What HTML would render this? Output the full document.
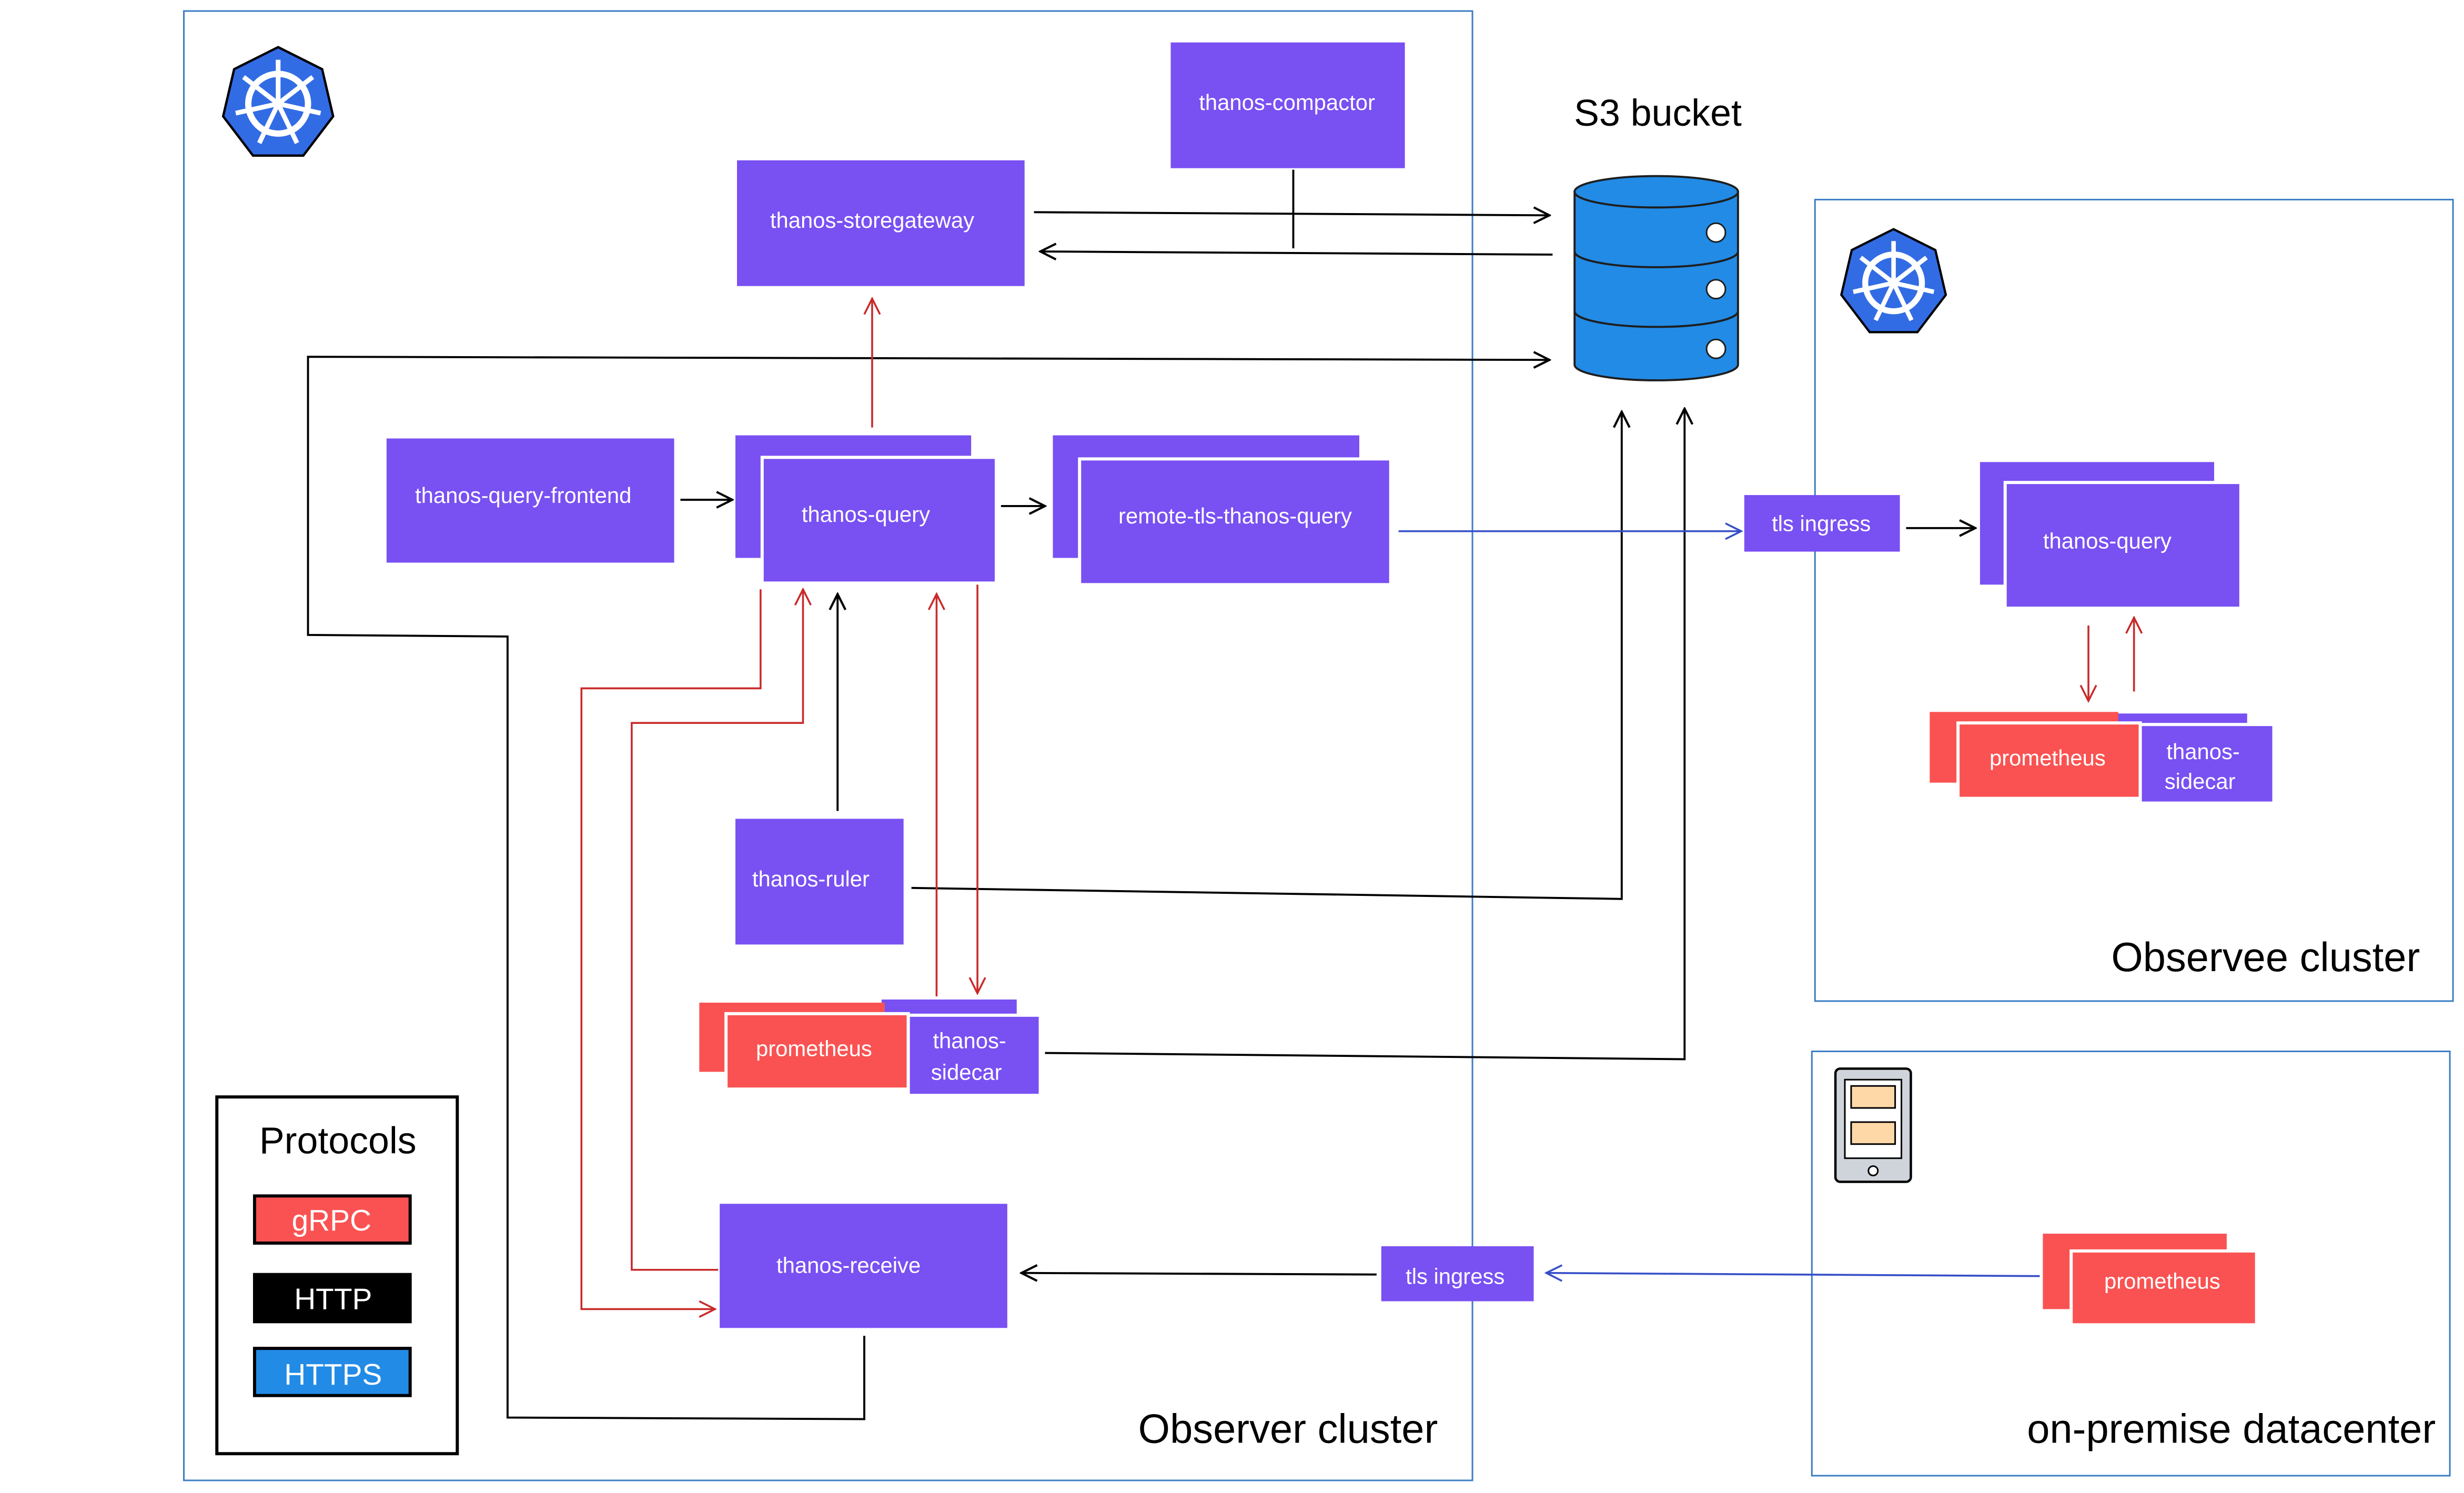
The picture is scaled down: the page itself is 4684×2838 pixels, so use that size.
<!DOCTYPE html>
<html><head><meta charset="utf-8"><style>html,body{margin:0;padding:0;background:#fff}svg{display:block}text{font-family:"Liberation Sans",sans-serif}</style></head><body>
<svg width="4684" height="2838" viewBox="0 0 1568 950" xmlns="http://www.w3.org/2000/svg">
<defs>
<marker id="ak" markerWidth="12" markerHeight="12" refX="11" refY="6" orient="auto" markerUnits="userSpaceOnUse"><path d="M1,1 L11,6 L1,11" fill="none" stroke="#000" stroke-width="1.4"/></marker>
<marker id="ar" markerWidth="12" markerHeight="12" refX="11" refY="6" orient="auto" markerUnits="userSpaceOnUse"><path d="M1,1 L11,6 L1,11" fill="none" stroke="#c92a2a" stroke-width="1.2"/></marker>
<marker id="ab" markerWidth="12" markerHeight="12" refX="11" refY="6" orient="auto" markerUnits="userSpaceOnUse"><path d="M1,1 L11,6 L1,11" fill="none" stroke="#364fc7" stroke-width="1.2"/></marker>
<g id="k8s"><polygon points="0,-36 28,-22 35,8 16,33 -16,33 -35,8 -28,-22" fill="#326ce5" stroke="#000" stroke-width="1.5"/><circle r="19" fill="none" stroke="#fff" stroke-width="4"/><circle r="3" fill="#fff"/><g stroke="#fff" stroke-width="3"><line x1="0" y1="0" x2="0" y2="-28"/><line x1="0" y1="0" x2="22" y2="-17"/><line x1="0" y1="0" x2="27" y2="6"/><line x1="0" y1="0" x2="12" y2="25"/><line x1="0" y1="0" x2="-12" y2="25"/><line x1="0" y1="0" x2="-27" y2="6"/><line x1="0" y1="0" x2="-22" y2="-17"/></g></g>
</defs>
<g fill="none" stroke="#3b7dc4" stroke-width="1">
<rect x="117" y="7" width="820" height="935"/>
<rect x="1155" y="127" width="406" height="510"/>
<rect x="1153" y="669" width="406" height="270"/>
</g>
<use href="#k8s" x="177" y="66"/>
<use href="#k8s" x="1205" y="180" transform="translate(1205,180) scale(0.95) translate(-1205,-180)"/>
<!-- S3 -->
<text x="1055" y="80" font-size="24" text-anchor="middle" fill="#000">S3 bucket</text>
<g stroke="#1e1e1e" stroke-width="1.3" fill="#228be6">
<path d="M1002,122 L1002,232 A52,10 0 0 0 1106,232 L1106,122 Z"/>
<ellipse cx="1054" cy="122" rx="52" ry="10"/>
<path d="M1002,160 A52,10 0 0 0 1106,160 M1002,198 A52,10 0 0 0 1106,198" fill="none"/>
</g>
<g fill="#fff" stroke="#1e1e1e"><circle cx="1092" cy="148" r="6"/><circle cx="1092" cy="184" r="6"/><circle cx="1092" cy="222" r="6"/></g>
<!-- boxes -->
<g fill="#7950f2">
<rect x="745" y="27" width="149" height="80"/>
<rect x="469" y="102" width="183" height="80"/>
<rect x="246" y="279" width="183" height="79"/>
<rect x="468" y="277" width="150" height="78"/>
<rect x="485" y="291" width="149" height="80" stroke="#fff" stroke-width="2"/>
<rect x="670" y="277" width="195" height="78"/>
<rect x="687" y="292" width="198" height="80" stroke="#fff" stroke-width="2"/>
<rect x="1110" y="315" width="99" height="36"/>
<rect x="1260" y="294" width="149" height="78"/>
<rect x="1276" y="307" width="150" height="80" stroke="#fff" stroke-width="2"/>
<rect x="468" y="521" width="107" height="80"/>
<rect x="458" y="766" width="183" height="79"/>
<rect x="879" y="793" width="97" height="35"/>
<rect x="1345" y="454" width="85" height="45"/>
<rect x="561" y="636" width="86" height="45"/>
</g>
<g fill="#fa5252">
<rect x="1228" y="453" width="120" height="45"/>
<rect x="445" y="638" width="118" height="44"/>
<rect x="1300" y="785" width="117" height="48"/>
<rect x="1246" y="460" width="116" height="48" stroke="#fff" stroke-width="2"/>
<rect x="462" y="645" width="116" height="48" stroke="#fff" stroke-width="2"/>
<rect x="1318" y="796" width="118" height="47" stroke="#fff" stroke-width="2"/>
</g>
<g fill="#7950f2" stroke="#fff" stroke-width="2">
<rect x="1362" y="461" width="85" height="50"/>
<rect x="578" y="646" width="84" height="51"/>
</g>
<g fill="#fff" font-size="14" text-anchor="middle">
<text x="819" y="70">thanos-compactor</text>
<text x="555" y="145">thanos-storegateway</text>
<text x="333" y="320">thanos-query-frontend</text>
<text x="551" y="332">thanos-query</text>
<text x="786" y="333">remote-tls-thanos-query</text>
<text x="1159" y="338">tls ingress</text>
<text x="1341" y="349">thanos-query</text>
<text x="1303" y="487">prometheus</text>
<text x="1402" y="483">thanos-</text><text x="1400" y="502">sidecar</text>
<text x="516" y="564">thanos-ruler</text>
<text x="518" y="672">prometheus</text>
<text x="617" y="667">thanos-</text><text x="615" y="687">sidecar</text>
<text x="540" y="810">thanos-receive</text>
<text x="926" y="817">tls ingress</text>
<text x="1376" y="820">prometheus</text>
</g>
<!-- tablet -->
<rect x="1168" y="680" width="48" height="72" rx="3" fill="#ced4da" stroke="#000" stroke-width="1.5"/>
<rect x="1174" y="687" width="36" height="50" fill="#fff" stroke="#000"/>
<rect x="1178" y="691" width="28" height="14" fill="#ffd8a8" stroke="#000"/>
<rect x="1178" y="714" width="28" height="14" fill="#ffd8a8" stroke="#000"/>
<circle cx="1192" cy="745" r="3" fill="#fff" stroke="#000"/>
<!-- protocols -->
<rect x="138" y="698" width="153" height="227" fill="none" stroke="#000" stroke-width="2"/>
<text x="215" y="734" font-size="24" text-anchor="middle">Protocols</text>
<rect x="162" y="761" width="99" height="30" fill="#fa5252" stroke="#000" stroke-width="2"/>
<rect x="162" y="811" width="99" height="30" fill="#000" stroke="#000" stroke-width="2"/>
<rect x="162" y="858" width="99" height="30" fill="#228be6" stroke="#000" stroke-width="2"/>
<g font-size="19" fill="#fff" text-anchor="middle"><text x="211" y="783">gRPC</text><text x="212" y="833">HTTP</text><text x="212" y="881">HTTPS</text></g>
<g font-size="26" text-anchor="end" fill="#000">
<text x="915" y="918">Observer cluster</text>
<text x="1540" y="618">Observee cluster</text>
<text x="1550" y="918">on-premise datacenter</text>
</g>
<!-- connectors -->
<g fill="none" stroke="#000" stroke-width="1.3">
<path d="M658,135 L986,137" marker-end="url(#ak)"/>
<path d="M988,162 L662,160" marker-end="url(#ak)"/>
<path d="M823,108 L823,158"/>
<path d="M550,850 L550,903 L323,902 L323,405 L196,404 L196,227 L986,229" marker-end="url(#ak)"/>
<path d="M433,318 L466,318" marker-end="url(#ak)"/>
<path d="M637,322 L665,322" marker-end="url(#ak)"/>
<path d="M1213,336 L1257,336" marker-end="url(#ak)"/>
<path d="M533,516 L533,378" marker-end="url(#ak)"/>
<path d="M580,565 L1032,572 L1032,262" marker-end="url(#ak)"/>
<path d="M665,670 L1072,674 L1072,260" marker-end="url(#ak)"/>
<path d="M876,811 L650,810" marker-end="url(#ak)"/>
</g>
<g fill="none" stroke="#c92a2a" stroke-width="1.2">
<path d="M555,272 L555,190" marker-end="url(#ar)"/>
<path d="M1329,398 L1329,446" marker-end="url(#ar)"/>
<path d="M1358,440 L1358,393" marker-end="url(#ar)"/>
<path d="M596,634 L596,378" marker-end="url(#ar)"/>
<path d="M622,372 L622,632" marker-end="url(#ar)"/>
<path d="M484,375 L484,438 L370,438 L370,833 L455,833" marker-end="url(#ar)"/>
<path d="M457,808 L402,808 L402,460 L511,460 L511,375" marker-end="url(#ar)"/>
</g>
<g fill="none" stroke="#364fc7" stroke-width="1.2">
<path d="M890,338 L1108,338" marker-end="url(#ab)"/>
<path d="M1298,812 L984,810" marker-end="url(#ab)"/>
</g>
</svg>
</body></html>
